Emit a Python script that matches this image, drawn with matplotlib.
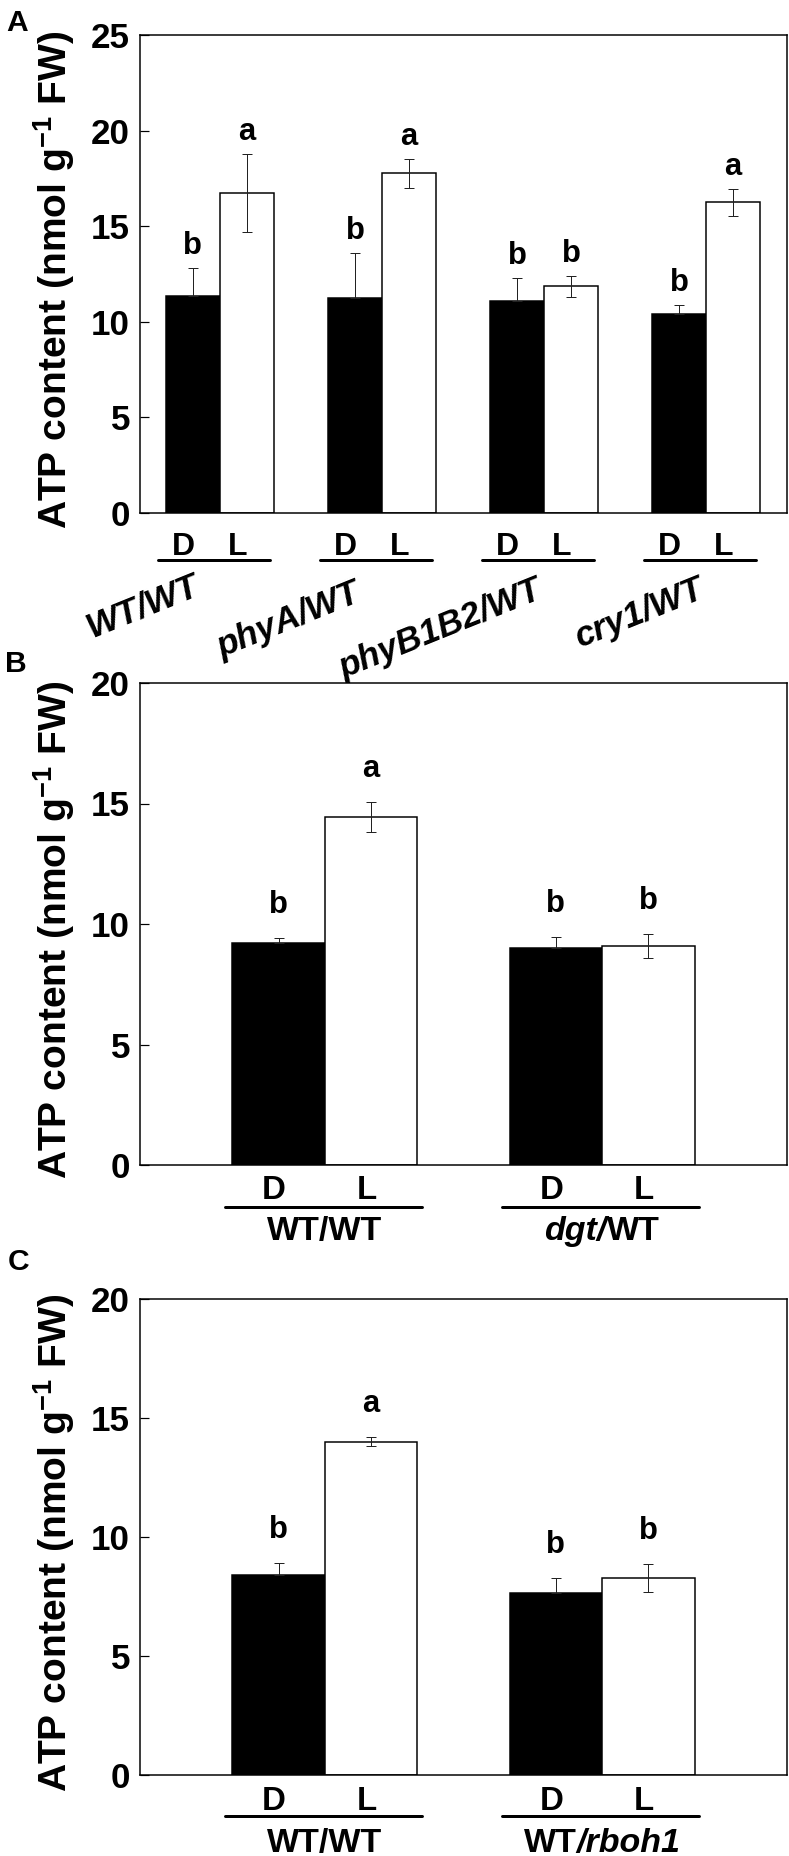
import matplotlib
matplotlib.use("Agg")
import matplotlib.pyplot as plt
import matplotlib.transforms as mtransforms
import numpy as np

plt.rcParams["font.family"] = ["Liberation Sans", "DejaVu Sans"]
plt.rcParams["font.weight"] = "bold"
plt.rcParams["mathtext.fontset"] = "custom"
plt.rcParams["mathtext.rm"] = "Liberation Sans:bold"
plt.rcParams["mathtext.bf"] = "Liberation Sans:bold"
plt.rcParams["mathtext.default"] = "regular"

# ---- data (ATP content, nmol g-1 FW) ----
a_groups = ["WT/WT", "phyA/WT", "phyB1B2/WT", "cry1/WT"]
a_dark = [11.37, 11.25, 11.09, 10.43]
a_dark_err = [1.45, 2.36, 1.20, 0.45]
a_light = [16.75, 17.78, 11.86, 16.25]
a_light_err = [2.05, 0.76, 0.55, 0.70]
a_dark_sig = ["b", "b", "b", "b"]
a_light_sig = ["a", "a", "b", "a"]

# group names split into (text, font style) pieces
b_groups = [[("WT/WT", "normal")], [("dgt/", "italic"), ("WT", "normal")]]
b_dark = [9.20, 8.99]
b_dark_err = [0.23, 0.47]
b_light = [14.44, 9.07]
b_light_err = [0.61, 0.50]
b_dark_sig = ["b", "b"]
b_light_sig = ["a", "b"]

c_groups = [[("WT/WT", "normal")], [("WT", "normal"), ("/rboh1", "italic")]]
c_dark = [8.40, 7.63]
c_dark_err = [0.49, 0.64]
c_light = [14.00, 8.26]
c_light_err = [0.19, 0.59]
c_dark_sig = ["b", "b"]
c_light_sig = ["a", "b"]

cond_labels = ["D", "L"]
ylabel = r"ATP content (nmol g$^{-1}$ FW)"

# ---- layout: pixel-based figure (dpi 72 -> 1 pt == 1 px) ----
W, H, DPI = 789, 1856, 72
fig = plt.figure(figsize=(W / DPI, H / DPI), dpi=DPI)
renderer = fig.canvas.get_renderer()


def fy(py):
    return 1 - py / H


def px_axes(left, top, right, bottom):
    return fig.add_axes([left / W, fy(bottom), (right - left) / W, (bottom - top) / H])


def draw_panel(ax, dark, dark_err, light, light_err, dark_sig, light_sig,
               pitch, xlim, ymax, sig_pad):
    x = np.arange(len(dark)) * pitch
    ax.bar(x, dark, width=1, color="black", edgecolor="black", lw=1.5)
    ax.bar(x + 1, light, width=1, color="white", edgecolor="black", lw=1.5)
    # lower half of the dark-bar error bars is hidden inside the black bar
    ax.errorbar(x, dark, yerr=[np.zeros(len(dark)), dark_err], fmt="none",
                ecolor="#222222", elinewidth=1, capsize=5, capthick=1)
    ax.errorbar(x + 1, light, yerr=light_err, fmt="none", ecolor="#222222",
                elinewidth=1, capsize=5, capthick=1)
    for xs, vals, errs, sigs in [(x, dark, dark_err, dark_sig),
                                 (x + 1, light, light_err, light_sig)]:
        for xi, v, e, s in zip(xs, vals, errs, sigs):
            ax.annotate(s, (xi, v + e), xytext=(0, sig_pad), textcoords="offset points",
                        ha="center", va="bottom", fontsize=31, fontweight="bold")
    ax.set_xlim(*xlim)
    ax.set_ylim(0, ymax)
    ax.set_yticks(np.arange(0, ymax + 1, 5))
    ax.set_xticks([])
    ax.tick_params(axis="y", direction="in", length=9, width=1.2, pad=10, labelsize=35)
    for sp in ax.spines.values():
        sp.set_linewidth(1.5)
    ax.set_ylabel(ylabel, fontsize=39, fontweight="bold")
    ax.yaxis.set_label_coords(-0.098, 0.4875)
    return x


def draw_conditions(ax, x, dl_top, line_y, shift, line_l, line_r, size):
    tr = mtransforms.blended_transform_factory(ax.transData, fig.transFigure)
    for xi in x:
        for k, lab in enumerate(cond_labels):
            ax.text(xi + k + shift, fy(dl_top), lab, transform=tr, ha="center", va="top",
                    fontsize=size, fontweight="bold")
        ax.plot([xi - 0.5 + line_l, xi + 1.5 + line_r], [fy(line_y)] * 2, transform=tr,
                color="black", lw=3, clip_on=False, solid_capstyle="round")
    return tr


def group_label(ax, tr, xc, py, parts, size):
    texts = [ax.text(0, fy(py), s, transform=tr, ha="left", va="top", fontsize=size,
                     fontweight="bold", style=st) for s, st in parts]
    widths = [t.get_window_extent(renderer).width for t in texts]
    x_disp = tr.transform((xc, fy(py)))[0] - sum(widths) / 2
    inv = tr.inverted()
    for t, w in zip(texts, widths):
        t.set_x(inv.transform((x_disp, 0))[0])
        x_disp += w


# Panel A
axA = px_axes(140, 35, 787, 513)
xA = draw_panel(axA, a_dark, a_dark_err, a_light, a_light_err, a_dark_sig, a_light_sig,
                pitch=3, xlim=(-0.98, 11.0), ymax=25, sig_pad=7)
trA = draw_conditions(axA, xA, 532, 560, -0.17, -0.15, -0.07, 32)
# centre of each slanted label, relative to the group centre (px)
a_label_dx = [-77, -93, -103, -66]
a_label_y = [607, 620, 629, 613]
for xi, g, dx, py in zip(xA, a_groups, a_label_dx, a_label_y):
    axA.annotate(g, (xi + 0.5, fy(py)), xycoords=trA, xytext=(dx, 0),
                 textcoords="offset points", rotation=22, rotation_mode="anchor",
                 ha="center", va="center", fontsize=35, fontweight="bold",
                 style="italic", annotation_clip=False)

# Panel B
axB = px_axes(140, 683, 787, 1165)
xB = draw_panel(axB, b_dark, b_dark_err, b_light, b_light_err, b_dark_sig, b_light_sig,
                pitch=3, xlim=(-1.5, 5.5), ymax=20, sig_pad=18)
trB = draw_conditions(axB, xB, 1175, 1207, -0.05, -0.08, 0.05, 33)
for xi, g in zip(xB, b_groups):
    group_label(axB, trB, xi + 0.5, 1216, g, 34)

# Panel C
axC = px_axes(140, 1299, 787, 1775)
xC = draw_panel(axC, c_dark, c_dark_err, c_light, c_light_err, c_dark_sig, c_light_sig,
                pitch=3, xlim=(-1.5, 5.5), ymax=20, sig_pad=18)
trC = draw_conditions(axC, xC, 1786, 1816, -0.05, -0.08, 0.05, 33)
for xi, g in zip(xC, c_groups):
    group_label(axC, trC, xi + 0.5, 1828, g, 34)

# panel letters
for lab, px, py in [("A", 6, 9), ("B", 5, 650), ("C", 8, 1248)]:
    fig.text(px / W, fy(py), lab, ha="left", va="top", fontsize=30, fontweight="bold")

fig.savefig("out.png", dpi=DPI)
